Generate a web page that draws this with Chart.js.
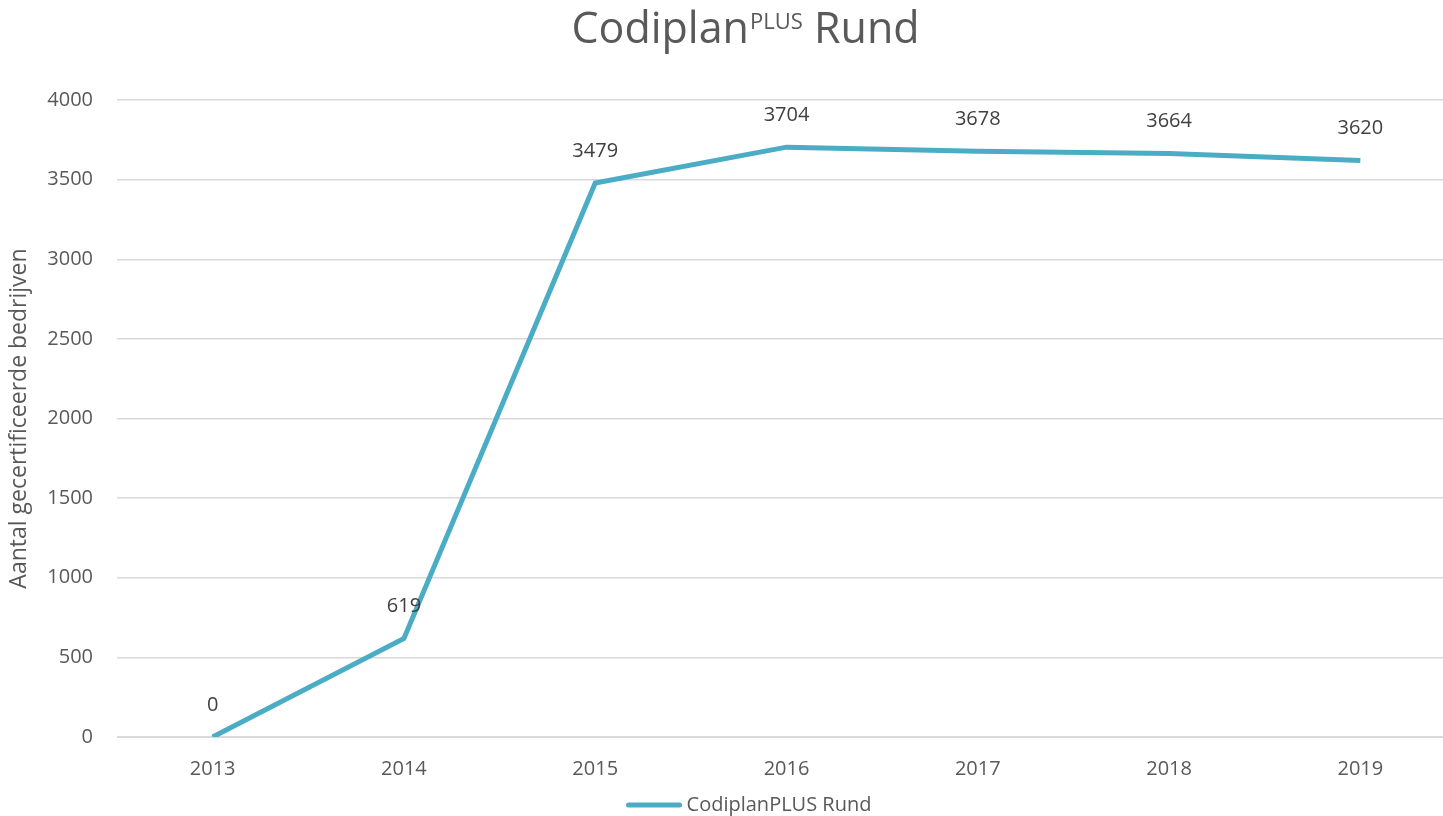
<!DOCTYPE html>
<html lang="nl">
<head>
<meta charset="UTF-8">
<title>Codiplan PLUS Rund</title>
<script src="https://cdn.jsdelivr.net/npm/chart.js"></script>
<style>
  html, body { margin: 0; padding: 0; background: #fff; overflow: hidden; }
  #wrap { width: 1458px; height: 816px; }
</style>
</head>
<body>
<div id="wrap"><canvas id="chart"></canvas></div>
<script>
const years = ["2013", "2014", "2015", "2016", "2017", "2018", "2019"];
const bedrijven = [0, 619, 3479, 3704, 3678, 3664, 3620];
const seriesName = "CodiplanPLUS Rund";
const yTitle = "Aantal gecertificeerde bedrijven";

const FONT = "'Open Sans', sans-serif";
const GREY = "#595959";
const LINE = "#4BACC6";

// title with superscript PLUS
const titlePlugin = {
  id: "supTitle",
  afterDraw(chart) {
    const ctx = chart.ctx;
    ctx.save();
    ctx.fillStyle = GREY;
    ctx.textBaseline = "alphabetic";
    const big = "43px " + FONT, small = "22px " + FONT;
    ctx.font = big;
    const w1 = ctx.measureText("Codiplan").width;
    const w3 = ctx.measureText(" Rund").width;
    ctx.font = small;
    const w2 = ctx.measureText("PLUS").width;
    let x = 745 - (w1 + w2 + w3) / 2;
    const y = 43;
    ctx.textAlign = "left";
    ctx.font = big;
    ctx.fillText("Codiplan", x, y);
    x += w1 + 1;
    ctx.font = small;
    ctx.fillText("PLUS", x, y - 14);
    x += w2;
    ctx.font = big;
    ctx.fillText(" Rund", x, y);
    ctx.restore();
  }
};

// value labels above the points
const labelPlugin = {
  id: "valueLabels",
  afterDatasetsDraw(chart) {
    const ctx = chart.ctx;
    const meta = chart.getDatasetMeta(0);
    ctx.save();
    ctx.font = "20px " + FONT;
    ctx.fillStyle = "#404040";
    ctx.textAlign = "center";
    ctx.textBaseline = "middle";
    meta.data.forEach((pt, i) => {
      ctx.fillText(String(bedrijven[i]), pt.x, pt.y - 32);
    });
    ctx.restore();
  }
};

// legend at the bottom, line symbol + series name
const legendPlugin = {
  id: "lineLegend",
  afterDraw(chart) {
    const ctx = chart.ctx;
    const ds = chart.data.datasets[0];
    ctx.save();
    ctx.font = "20px " + FONT;
    const tw = ctx.measureText(ds.label).width;
    const total = 55 + 5 + tw;
    const x0 = 749 - total / 2;
    const y = 805;
    ctx.strokeStyle = ds.borderColor;
    ctx.lineWidth = 5;
    ctx.lineCap = "round";
    ctx.beginPath();
    ctx.moveTo(x0 + 2, y);
    ctx.lineTo(x0 + 53, y);
    ctx.stroke();
    ctx.fillStyle = GREY;
    ctx.textAlign = "left";
    ctx.textBaseline = "middle";
    ctx.fillText(ds.label, x0 + 60, y);
    ctx.restore();
  }
};

new Chart(document.getElementById("chart"), {
  type: "line",
  data: {
    labels: years,
    datasets: [{
      label: seriesName,
      data: bedrijven,
      borderColor: LINE,
      backgroundColor: LINE,
      borderWidth: 5,
      pointRadius: 0,
      tension: 0,
      fill: false
    }]
  },
  options: {
    responsive: true,
    maintainAspectRatio: false,
    animation: false,
    layout: { padding: { top: 100, left: 0, right: 2, bottom: 23 } },
    plugins: {
      title: { display: false },
      tooltip: { enabled: false },
      legend: { display: false }
    },
    scales: {
      x: {
        offset: true,
        afterFit(scale) { scale.height = 56; },
        grid: { display: false, drawTicks: false },
        border: { color: "#d9d9d9", width: 1 },
        ticks: { color: GREY, font: { family: FONT, size: 20 }, padding: 20 }
      },
      y: {
        min: 0,
        max: 4000,
        afterFit(scale) { scale.width = 117; },
        ticks: {
          stepSize: 500, color: GREY, font: { family: FONT, size: 20 }, padding: 24,
          callback: v => String(v)
        },
        grid: { color: "#d9d9d9", lineWidth: 1.5, drawTicks: false },
        border: { display: false },
        title: { display: true, text: yTitle, color: GREY, font: { family: FONT, size: 23 }, padding: { top: 6, bottom: 4 } }
      }
    }
  },
  plugins: [titlePlugin, labelPlugin, legendPlugin]
});
</script>
</body>
</html>
